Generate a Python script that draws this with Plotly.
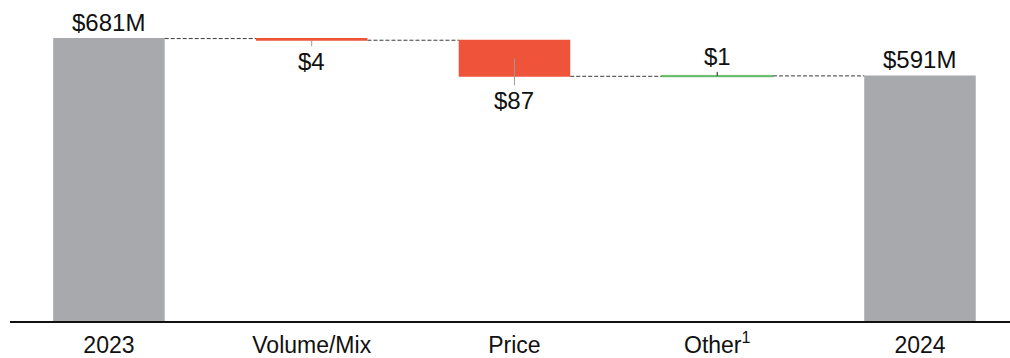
import plotly.graph_objects as go

# Bridge from 2023 to 2024 ($M)
categories = ["2023", "Volume/Mix", "Price", "Other<sup>1</sup>", "2024"]
values = [681, -4, -87, 1, 591]
measures = ["absolute", "relative", "relative", "relative", "total"]
labels = ["$681M", "$4", "$87", "$1", "$591M"]

GREY = "#A7A9AC"
RED = "#EF533A"
GREEN = "#4CAF50"
FONT = "Liberation Sans, Arial, sans-serif"

x_pos = list(range(len(categories)))

fig = go.Figure(go.Waterfall(
    x=x_pos,
    y=values,
    measure=measures,
    width=0.55,
    totals=dict(marker=dict(color=GREY)),
    increasing=dict(marker=dict(color=GREEN, line=dict(color=GREEN, width=0.6))),
    decreasing=dict(marker=dict(color=RED)),
    connector=dict(mode="between", line=dict(color="#3a3a3a", width=1, dash="4px,2px")),
    textinfo="none",
    hoverinfo="skip",
))

# running levels for label placement
levels = []
run = 0
for v, m in zip(values, measures):
    start = run
    if m == "absolute":
        run = v
        start = 0
    elif m == "total":
        start = 0
    else:
        run = run + v
    levels.append((start, run))

ann = []
for i, (lab, v, m) in enumerate(zip(labels, values, measures)):
    start, end = levels[i]
    if m in ("absolute", "total"):
        ann.append(dict(x=x_pos[i], y=end, text=lab, showarrow=False,
                        yanchor="bottom", yshift=1))
    elif v < 0:
        lo = min(start, end)
        if abs(v) > 20:
            point = (start + end) / 2
            ay = 42
        else:
            point = lo
            ay = 21
        ann.append(dict(x=x_pos[i], y=point, text=lab, showarrow=True,
                        arrowhead=0, arrowwidth=1, arrowcolor="#9a9a9a",
                        ax=0, ay=ay, standoff=0, startstandoff=0))
    else:
        hi = max(start, end)
        ann.append(dict(x=x_pos[i], y=hi, text=lab, showarrow=True,
                        arrowhead=0, arrowwidth=1, arrowcolor="#222222",
                        ax=0, ay=-19, standoff=0, startstandoff=0))

fig.update_layout(
    width=1010, height=358,
    margin=dict(l=10, r=0, t=0, b=33),
    paper_bgcolor="white", plot_bgcolor="white",
    showlegend=False,
    font=dict(family=FONT, size=24, color="#111111"),
    annotations=ann,
    xaxis=dict(
        tickmode="array", tickvals=x_pos, ticktext=categories,
        range=[-0.488, 4.444],
        showline=True, linecolor="#111111", linewidth=2,
        showgrid=False, zeroline=False, ticks="",
        ticklabelstandoff=2,
        tickfont=dict(family=FONT, size=23, color="#111111"),
        fixedrange=True,
    ),
    yaxis=dict(range=[0, 774], visible=False, showgrid=False, zeroline=False,
               fixedrange=True),
)

fig.write_html("out.html")
